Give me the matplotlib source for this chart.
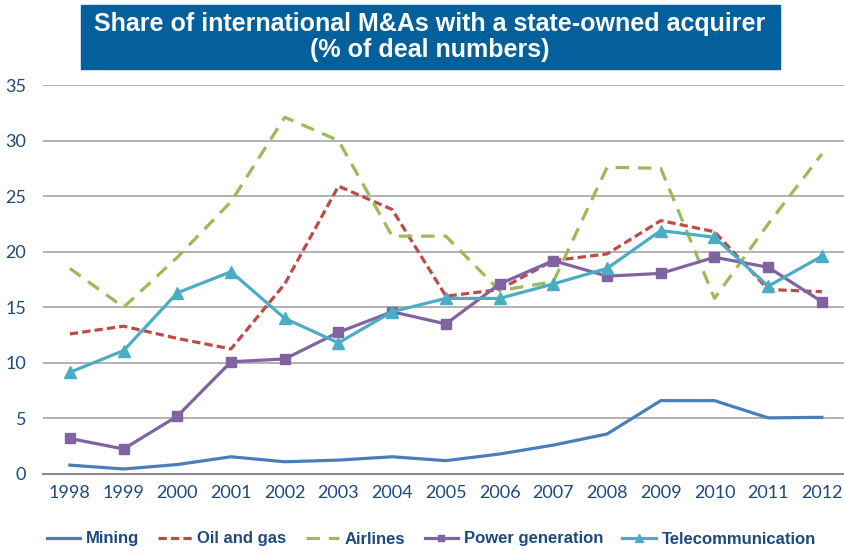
import matplotlib.pyplot as plt
from matplotlib.patches import Rectangle

YEARS = ['1998', '1999', '2000', '2001', '2002', '2003', '2004', '2005',
         '2006', '2007', '2008', '2009', '2010', '2011', '2012']

MINING = [0.8, 0.45, 0.85, 1.55, 1.1, 1.25, 1.55, 1.2, 1.8, 2.6, 3.6, 6.6, 6.6, 5.05, 5.1]
OIL_GAS = [12.6, 13.3, 12.2, 11.25, 17.1, 25.9, 23.8, 16.0, 16.6, 19.2, 19.8, 22.8, 21.8, 16.6, 16.4]
AIRLINES = [18.5, 15.0, 19.5, 24.5, 32.1, 30.0, 21.4, 21.4, 16.5, 17.3, 27.6, 27.5, 15.8, 22.5, 28.8]
POWER = [3.2, 2.25, 5.2, 10.1, 10.35, 12.75, 14.6, 13.5, 17.1, 19.2, 17.8, 18.05, 19.5, 18.6, 15.5]
TELECOM = [9.15, 11.1, 16.3, 18.2, 14.0, 11.8, 14.6, 15.8, 15.8, 17.1, 18.5, 21.9, 21.3, 16.9, 19.6]

TICK_COLOR = '#1F497D'


def main():
    fig = plt.figure(figsize=(8.45, 5.51), dpi=100)
    ax = fig.add_axes([43 / 845, 77 / 551, 1 - 43 / 845, 389 / 551])

    x = range(len(YEARS))
    ax.plot(x, MINING, color='#4A7EBB', lw=2.3, label='Mining')
    ax.plot(x, OIL_GAS, color='#BE4B48', lw=2.3, dashes=(2.6, 1.3), label='Oil and gas')
    ax.plot(x, AIRLINES, color='#9BBB59', lw=2.3, dashes=(4.2, 2.8), label='Airlines')
    ax.plot(x, POWER, color='#8064A2', lw=2.3, marker='s', ms=7, label='Power generation')
    ax.plot(x, TELECOM, color='#4BACC6', lw=2.3, marker='^', ms=9, label='Telecommunication')

    ax.set_ylim(0, 35)
    ax.set_yticks(range(0, 36, 5))
    ax.set_xlim(-0.5, (845 - 70) / 53.71)
    ax.set_xticks(list(x))
    ax.set_xticklabels(YEARS)

    ax.grid(axis='y', color='#A6A6A6', lw=1.2)
    ax.set_axisbelow(True)
    for side in ['left', 'right', 'top']:
        ax.spines[side].set_visible(False)
    ax.spines['bottom'].set_color('#8C8C8C')
    ax.spines['bottom'].set_linewidth(1.5)
    ax.tick_params(axis='both', length=0, labelsize=13, colors=TICK_COLOR)
    ax.tick_params(axis='y', pad=12)
    ax.tick_params(axis='x', pad=8)
    for lbl in ax.get_xticklabels() + ax.get_yticklabels():
        lbl.set_fontfamily('Lato')

    leg = fig.legend(loc='center left', bbox_to_anchor=(40 / 845, 1 - 539 / 551), ncol=5,
                     frameon=False, handlelength=2.0, columnspacing=1.15, handletextpad=0.35,
                     markerscale=0.7, borderaxespad=0,
                     prop={'family': 'Liberation Sans', 'weight': 'bold', 'size': 12})
    for t in leg.get_texts():
        t.set_color(TICK_COLOR)

    fig.patches.append(Rectangle((81 / 845, 1 - 69 / 551), 699 / 845, 64 / 551,
                                 transform=fig.transFigure, color='#03609A', zorder=0))
    fig.text(430 / 845, 1 - 37 / 551,
             'Share of international M&As with a state-owned acquirer\n(% of deal numbers)',
             ha='center', va='center', color='white', fontsize=18, fontweight='bold',
             family='Liberation Sans', linespacing=1.1)

    fig.savefig('out.png', dpi=100)


if __name__ == '__main__':
    main()
